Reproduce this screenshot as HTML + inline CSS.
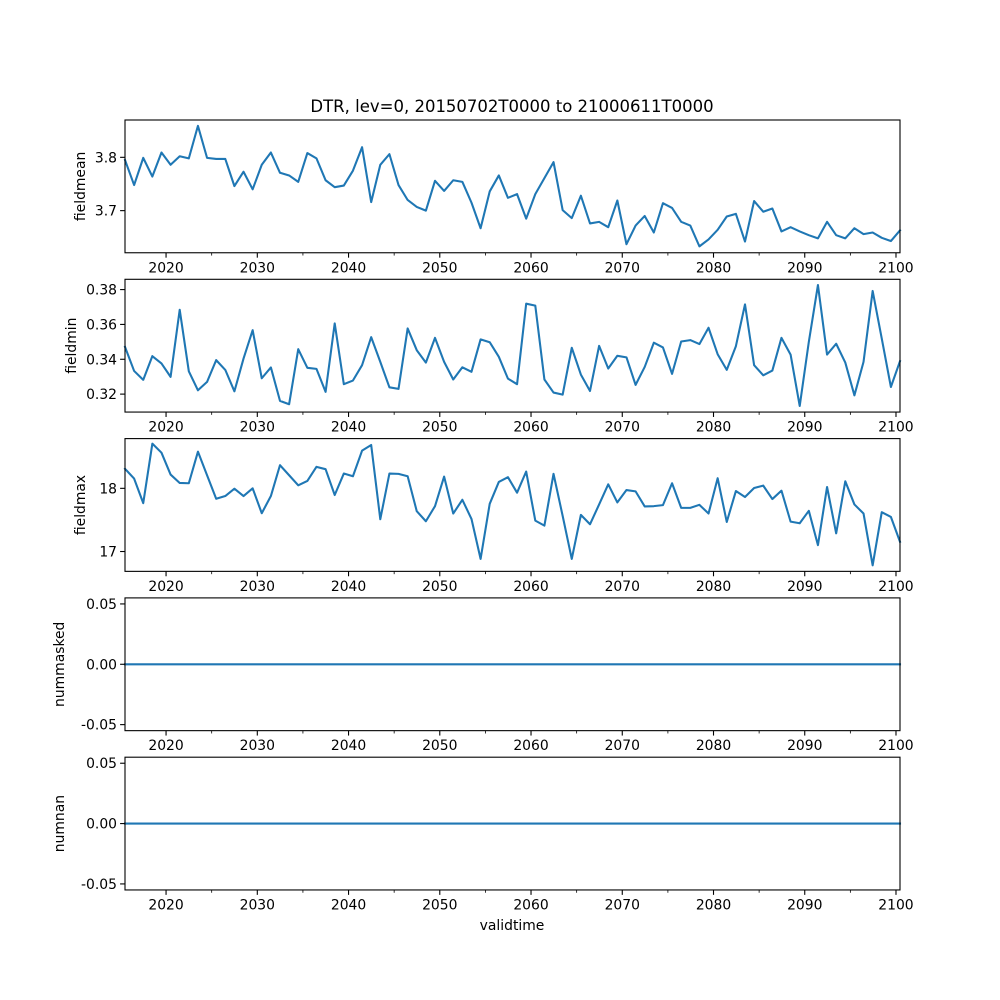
<!DOCTYPE html>
<html><head><meta charset="utf-8"><style>
html,body{margin:0;padding:0;background:#fff;}
svg{display:block;font-family:"DejaVu Sans","Liberation Sans",sans-serif;}
</style></head><body>
<svg id="fig" width="1000" height="1000" viewBox="0 0 1000 1000">
<text x="512" y="112" text-anchor="middle" font-size="16.5">DTR, lev=0, 20150702T0000 to 21000611T0000</text>
<text x="512" y="930" text-anchor="middle" font-size="13.9">validtime</text>
</svg>
<script>
const years = [];
for (let y = 2015; y <= 2100; y++) years.push(y);
const fieldmean = [3.795,3.748,3.799,3.764,3.809,3.786,3.802,3.798,3.859,3.799,3.797,3.797,3.746,3.773,3.740,3.786,3.809,3.771,3.766,3.754,3.808,3.798,3.757,3.744,3.747,3.775,3.819,3.716,3.786,3.806,3.748,3.720,3.707,3.700,3.756,3.737,3.757,3.754,3.715,3.667,3.736,3.766,3.724,3.731,3.685,3.731,3.761,3.791,3.701,3.686,3.728,3.676,3.679,3.669,3.719,3.637,3.672,3.690,3.659,3.714,3.705,3.679,3.672,3.633,3.646,3.664,3.689,3.694,3.642,3.718,3.698,3.704,3.661,3.669,3.661,3.654,3.648,3.679,3.654,3.648,3.667,3.656,3.659,3.649,3.643,3.663];
const fieldmin = [0.3471,0.3333,0.3282,0.3418,0.3376,0.3299,0.3684,0.3331,0.3222,0.3270,0.3395,0.3339,0.3216,0.3404,0.3567,0.3291,0.3353,0.3161,0.3142,0.3458,0.3351,0.3345,0.3213,0.3606,0.3257,0.3278,0.3366,0.3527,0.3385,0.3239,0.3230,0.3577,0.3452,0.3381,0.3523,0.3385,0.3284,0.3354,0.3328,0.3514,0.3498,0.3414,0.3289,0.3257,0.3719,0.3708,0.3284,0.3209,0.3197,0.3466,0.3312,0.3218,0.3477,0.3347,0.3420,0.3411,0.3253,0.3356,0.3495,0.3468,0.3316,0.3502,0.3510,0.3487,0.3581,0.3429,0.3339,0.3475,0.3715,0.3366,0.3308,0.3335,0.3523,0.3427,0.3132,0.3500,0.3826,0.3427,0.3489,0.3381,0.3193,0.3385,0.3792,0.3519,0.3241,0.3389];
const fieldmax = [18.309,18.154,17.766,18.707,18.564,18.218,18.085,18.080,18.580,18.207,17.835,17.878,17.995,17.878,18.000,17.606,17.878,18.367,18.207,18.048,18.117,18.340,18.303,17.894,18.234,18.191,18.596,18.686,17.511,18.234,18.229,18.191,17.638,17.479,17.718,18.186,17.601,17.819,17.516,16.883,17.755,18.101,18.176,17.931,18.266,17.489,17.410,18.229,17.564,16.883,17.580,17.431,17.745,18.064,17.777,17.973,17.952,17.713,17.718,17.734,18.080,17.691,17.691,17.739,17.601,18.160,17.468,17.957,17.862,18.005,18.043,17.830,17.963,17.473,17.447,17.644,17.101,18.021,17.287,18.112,17.745,17.601,16.782,17.622,17.548,17.154];
const nummasked = years.map(() => 0);
const numnan = years.map(() => 0);
const xTickLabels = ['2020','2030','2040','2050','2060','2070','2080','2090','2100'];
const meanTicks = ['3.7','3.8'];
const minTicks = ['0.32','0.34','0.36','0.38'];
const maxTicks = ['17','18'];
const zeroTicks = ['-0.05','0.00','0.05'];

const NS = 'http://www.w3.org/2000/svg';
const svg = document.getElementById('fig');
const L = 125, R = 900, H = 132.76;
const tOf = y => y + 0.5 - (y - 2015) * 0.00071;
const T0 = tOf(2015), T1 = tOf(2100);
const xs = t => L + (t - T0) / (T1 - T0) * (R - L);
function mk(tag, attrs, parent) {
  const e = document.createElementNS(NS, tag);
  for (const k in attrs) e.setAttribute(k, attrs[k]);
  (parent || svg).appendChild(e);
  return e;
}
const panels = [
  {name:'fieldmean', data:fieldmean, lo:3.621, hi:3.870, ticks:meanTicks},
  {name:'fieldmin', data:fieldmin, lo:0.3097, hi:0.3859, ticks:minTicks},
  {name:'fieldmax', data:fieldmax, lo:16.686, hi:18.787, ticks:maxTicks},
  {name:'nummasked', data:nummasked, lo:-0.055, hi:0.055, ticks:zeroTicks},
  {name:'numnan', data:numnan, lo:-0.055, hi:0.055, ticks:zeroTicks}
];
panels.forEach((p, k) => {
  const top = 120 + k * 159.3, bot = top + H;
  const ys = v => bot - (v - p.lo) / (p.hi - p.lo) * H;
  const g = mk('g', {});
  
  
  // line
  const d = p.data.map((v, i) => (i ? 'L' : 'M') + xs(tOf(years[i])).toFixed(2) + ',' + ys(v).toFixed(2)).join('');
  const path = mk('path', {d: d, fill: 'none', stroke: '#1f77b4', 'stroke-width': 2.08, 'stroke-linejoin': 'round', 'stroke-linecap': 'square'}, g);
  
  
  // frame
  const fr = mk('rect', {x: L, y: top, width: R - L, height: H, fill: 'none', stroke: '#000', 'stroke-width': 1.1}, g);
  
  
  // x ticks
  for (let yr = 2020; yr <= 2100; yr += 5) {
    const x = xs(yr);
    const major = yr % 10 === 0;
    mk('line', {x1: x, x2: x, y1: bot, y2: bot + (major ? 4.9 : 2.8), stroke: '#000', 'stroke-width': major ? 1.1 : 0.8}, g);
    if (major) {
      const t = mk('text', {x: x, y: bot + 19.5, 'text-anchor': 'middle', 'font-size': 13.9}, g);
      t.textContent = xTickLabels[(yr - 2020) / 10];
      
      
    }
  }
  // y ticks
  p.ticks.forEach(s => {
    const y = ys(parseFloat(s));
    mk('line', {x1: L - 4.9, x2: L, y1: y, y2: y, stroke: '#000', 'stroke-width': 1.1}, g);
    const t = mk('text', {x: L - 8, y: y + 5, 'text-anchor': 'end', 'font-size': 13.9}, g);
    t.textContent = s;
    
    
  });
  const lx = (k >= 3) ? 64 : (k === 1 ? 76 : 85);
  const cy = top + H / 2;
  const yl = mk('text', {x: lx, y: cy, 'text-anchor': 'middle', 'font-size': 13.9, transform: 'rotate(-90 ' + lx + ' ' + cy + ')'}, g);
  yl.textContent = p.name;
  
  
});
</script>
</body></html>
